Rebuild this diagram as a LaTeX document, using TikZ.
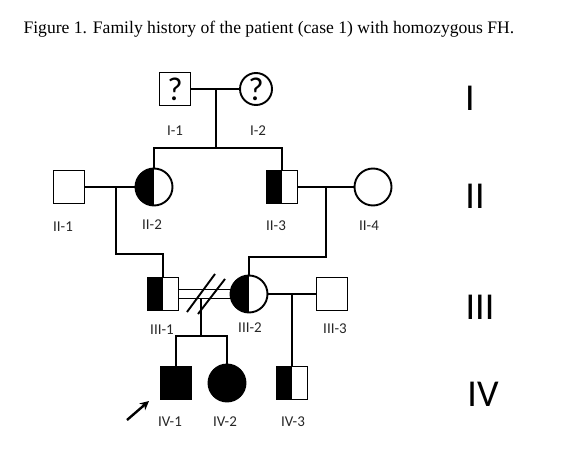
\documentclass[tikz,border=0pt]{standalone}
\usepackage{fontspec}
\setmainfont{Carlito}
\newfontfamily\titlefont{Liberation Serif}
\usetikzlibrary{positioning,arrows.meta,calc}
\tikzset{
  person/.style={draw, line width=1.9pt, fill=white, inner sep=0pt},
  male/.style={person, rectangle, minimum width=31pt, minimum height=33pt},
  female/.style={person, circle, minimum size=37pt},
  carrier/.style={path picture={\fill[black] (path picture bounding box.south west) rectangle (path picture bounding box.north);}},
  affected/.style={fill=black},
  link/.style={line width=1.9pt},
  idlbl/.style={font=\fontsize{15}{15}\selectfont, text=black!85},
  gen/.style={font=\fontsize{38}{38}\selectfont},
  arrow/.style={-{Stealth[length=9pt,width=9pt]}, line width=2.4pt},
}
\begin{document}
\begin{tikzpicture}[x=1pt, y=-1pt]
  \useasboundingbox (0,0) rectangle (570,468);
  \node[anchor=base west, font=\titlefont\fontsize{17.6}{17.6}\selectfont] (title) at (20,34)
    {Figure 1. Family history of the patient (case 1) with homozygous FH.};

  % generation I
  \node[male, font=\fontsize{33}{33}\selectfont] (I1) at (175,89) {?};
  \node[female, minimum size=32pt, font=\fontsize{33}{33}\selectfont] (I2) at (256,89) {?};
  \node[idlbl] at (175,131) {I-1};
  \node[idlbl] at (258,131) {I-2};

  % generation II
  \node[male]            (II1) at (69,187)  {};
  \node[female, carrier] (II2) at (154,187) {};
  \node[male, carrier]   (II3) at (282,187) {};
  \node[female]          (II4) at (373,187) {};
  \node[idlbl] at (63,227)  {II-1};
  \node[idlbl] at (152,225) {II-2};
  \node[idlbl] at (276,226) {II-3};
  \node[idlbl] at (369,226) {II-4};

  % generation III
  \node[male, carrier]   (III1) at (163,294) {};
  \node[female, carrier] (III2) at (249,294) {};
  \node[male]            (III3) at (332,294) {};
  \node[idlbl] at (162,330) {III-1};
  \node[idlbl] at (250,328) {III-2};
  \node[idlbl] at (335,329) {III-3};

  % generation IV
  \node[male, affected]   (IV1) at (176,383) {};
  \node[female, affected] (IV2) at (227,383) {};
  \node[male, carrier]    (IV3) at (292,383) {};
  \node[idlbl] at (170,422) {IV-1};
  \node[idlbl] at (225,422) {IV-2};
  \node[idlbl] at (293,422) {IV-3};

  % generation numerals
  \node[gen] (gI)   at (470,98)  {I};
  \node[gen] (gII)  at (475,196) {II};
  \node[gen] (gIII) at (480,307) {III};
  \node[gen] (gIV)  at (483,394) {IV};

  % junction points
  \coordinate (m1) at (216,89);
  \coordinate (s1) at (216,148);
  \coordinate (m2) at (116,187);
  \coordinate (k2) at (116,254);
  \coordinate (m3) at (326,187);
  \coordinate (k3) at (326,257);
  \coordinate (m4) at (292,294);
  \coordinate (c1) at (201,299);
  \coordinate (s4) at (201,336);

  % lines
  \draw[link] (I1) -- (I2);
  \draw[link] (m1) -- (s1);
  \draw[link] (II2.north) -- (II2.north |- s1) -- (II3.north |- s1) -- (II3.north);
  \draw[link] (II1) -- (II2);
  \draw[link] (II3) -- (II4);
  \draw[link] (m2) -- (k2) -- (III1.north |- k2) -- (III1.north);
  \draw[link] (m3) -- (k3) -- (III2.north |- k3) -- (III2.north);
  \draw[link] ($(III1.east)+(0,-4.5)$) -- ($(III2.west)+(0.6,-4.5)$);
  \draw[link] ($(III1.east)+(0,4.5)$) -- ($(III2.west)+(0.6,4.5)$);
  \draw[link] (187,312) -- (215,274);
  \draw[link] (198,314) -- (225,279);
  \draw[link] (c1) -- (s4);
  \draw[link] (IV1.north) -- (IV1.north |- s4) -- (IV2.north |- s4) -- (IV2.north);
  \draw[link] (III2) -- (III3);
  \draw[link] (m4) -- (IV3.north);

  % proband
  \coordinate (pa) at (127,420);
  \coordinate (pb) at (149,401);
  \draw[arrow] (pa) -- (pb);
\end{tikzpicture}
\end{document}
